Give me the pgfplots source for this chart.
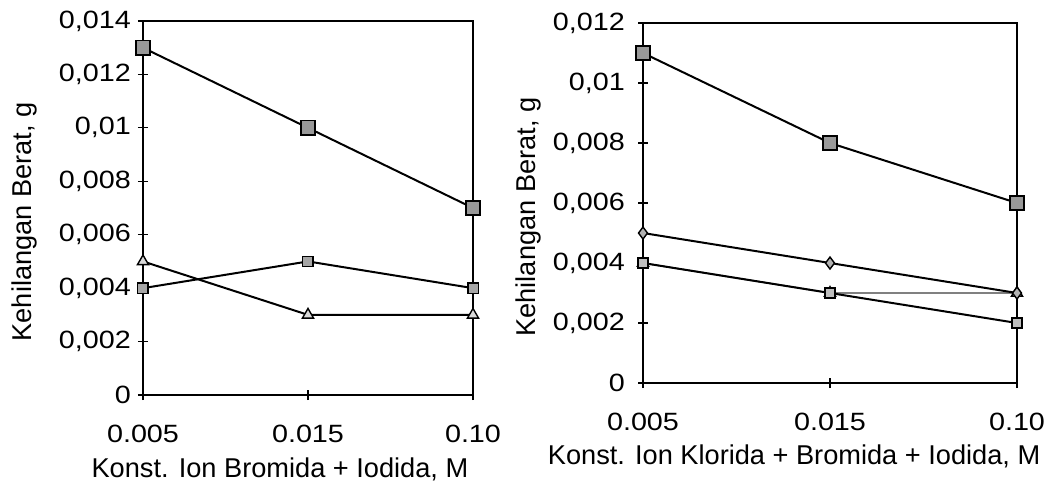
\documentclass[border=0pt]{standalone}
\usepackage{fontspec}
\setmainfont{Liberation Sans}
\newfontfamily\tickfont[FakeStretch=1.15]{Liberation Sans}
\usepackage{pgfplots}
\pgfplotsset{compat=1.18}
\begin{document}
\begin{tikzpicture}
\path[use as bounding box] (0,0) rectangle (525.5pt,247.5pt);
\pgfplotsset{
  base/.style={
    scale only axis, xmin=0, xmax=2, ymin=0,
    xtick={0,1,2}, xticklabels={0.005,0.015,0.10},
    tick align=center, xtick pos=bottom, ytick pos=left,
    major tick length=5pt,
    tick style={black, line width=0.6pt},
    axis line style={line width=0.8pt},
    scaled y ticks=false, clip=false,
    tick label style={font=\tickfont\fontsize{12.5}{14}\selectfont},
    label style={font=\fontsize{13.6}{16}\selectfont},
    xticklabel style={anchor=north, yshift=-9pt},
    every axis plot/.append style={black, line width=1pt},
  },
  bigsq/.style={mark=square*, mark size=3.6pt, mark options={fill=gray!80, draw=black, line width=0.8pt}},
  smsq/.style={mark=square*, mark size=2.6pt, mark options={fill=gray!70, draw=black, line width=0.7pt}},
  tri/.style={mark=triangle*, mark size=3.2pt, mark options={fill=gray!30, draw=black, line width=0.7pt}},
  dia/.style={mark=diamond*, mark size=3pt, mark options={fill=gray!60, draw=black, line width=0.7pt}},
}
\begin{axis}[base, at={(71.5pt,50pt)}, anchor=south west,
  width=165pt, height=187pt, ymax=0.014,
  ytick={0,0.002,0.004,0.006,0.008,0.01,0.012,0.014},
  yticklabels={0,{0,002},{0,004},{0,006},{0,008},{0,01},{0,012},{0,014}},
  xlabel={Konst. Ion Bromida + Iodida, M},
  xlabel style={at={(rel axis cs:0.415,-0.2)}, anchor=center},
  ylabel={Kehilangan Berat, g},
  ylabel style={at={(rel axis cs:-0.358,0.463)}, anchor=center, rotate=0},
]
\addplot[bigsq] coordinates {(0,0.013) (1,0.010) (2,0.007)};
\addplot[smsq] coordinates {(0,0.004) (1,0.005) (2,0.004)};
\addplot[tri] coordinates {(0,0.005) (1,0.003) (2,0.003)};
\end{axis}
\begin{axis}[base, at={(321.5pt,56pt)}, anchor=south west,
  width=187pt, height=180pt, ymax=0.012,
  ytick={0,0.002,0.004,0.006,0.008,0.01,0.012},
  yticklabels={0,{0,002},{0,004},{0,006},{0,008},{0,01},{0,012}},
  yticklabel style={xshift=-3pt},
  xlabel={Konst. Ion Klorida + Bromida + Iodida, M},
  xlabel style={at={(rel axis cs:0.404,-0.205)}, anchor=center},
  ylabel={Kehilangan Berat, g},
  ylabel style={at={(rel axis cs:-0.3075,0.461)}, anchor=center, rotate=0},
]
\addplot[tri, gray, line width=0.8pt] coordinates {(0,0.004) (1,0.003) (2,0.003)};
\addplot[bigsq] coordinates {(0,0.011) (1,0.008) (2,0.006)};
\addplot[dia] coordinates {(0,0.005) (1,0.004) (2,0.003)};
\addplot[smsq, mark options={fill=gray!50}] coordinates {(0,0.004) (1,0.003) (2,0.002)};
\end{axis}
\end{tikzpicture}
\end{document}
